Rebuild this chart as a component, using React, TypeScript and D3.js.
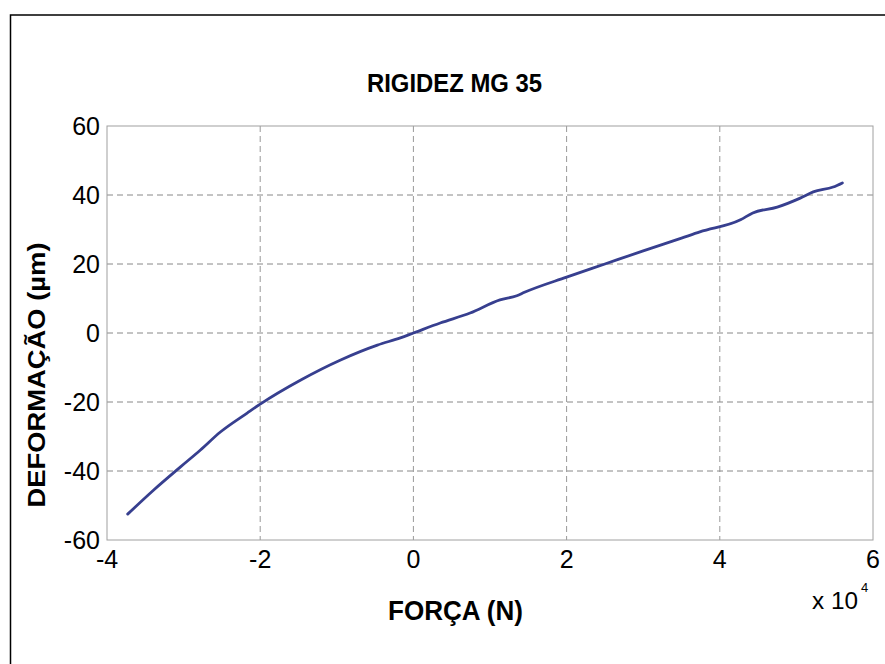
import React from "react";
import * as d3 from "d3";

const forceX: number[] = [-3.73, -3.39, -3.04, -2.78, -2.52, -2.17, -2.0, -1.47, -0.95, -0.47, -0.17, 0, 0.35, 0.74, 1.13, 1.35, 1.45, 2.0, 2.5, 3.0, 3.5, 3.74, 4.27, 4.43, 4.75, 5.05, 5.22, 5.48, 5.6];
const deformY: number[] = [-52.5, -45.5, -38.8, -33.9, -28.7, -23.2, -20.6, -13.6, -7.8, -3.5, -1.4, 0, 2.9, 5.8, 9.6, 10.8, 11.8, 16.2, 20.0, 23.8, 27.5, 29.3, 32.8, 34.8, 36.5, 39.1, 40.9, 42.3, 43.5];
const xTicks: number[] = [-4, -2, 0, 2, 4, 6];
const yTicks: number[] = [-60, -40, -20, 0, 20, 40, 60];

const title = "RIGIDEZ MG 35";
const xLabel = "FORÇA (N)";
const yLabel = "DEFORMAÇÃO (µm)";

export default function App() {
  const W = 885, H = 664;
  const left = 107, right = 873, top = 126, bottom = 540;
  const x = d3.scaleLinear().domain([-4, 6]).range([left, right]);
  const y = d3.scaleLinear().domain([-60, 60]).range([bottom, top]);
  const line = d3.line<number>().x((_, i) => x(forceX[i])).y((d) => y(d)).curve(d3.curveMonotoneX);
  const font = "Liberation Sans, Arial, sans-serif";
  return (
    <svg width={W} height={H} style={{ position: "absolute", left: 0, top: 0 }} fontFamily={font}>
      <rect x={0} y={0} width={W} height={H} fill="#fff" />
      <rect x={10.5} y={15} width={900} height={700} fill="none" stroke="#000" strokeWidth={1.5} />
      {xTicks.slice(1, -1).map((t) => (
        <line key={"gx" + t} x1={x(t)} x2={x(t)} y1={top} y2={bottom} stroke="#999" strokeDasharray="6,4" strokeWidth={1} />
      ))}
      {yTicks.slice(1, -1).map((t) => (
        <line key={"gy" + t} x1={left} x2={right} y1={y(t)} y2={y(t)} stroke="#888" strokeDasharray="6,4" strokeWidth={1} />
      ))}
      <rect x={left} y={top} width={right - left} height={bottom - top} fill="none" stroke="#a0a0a0" strokeWidth={1} />
      <path d={line(deformY) || ""} fill="none" stroke="#373f8f" strokeWidth={2.8} strokeLinejoin="round" strokeLinecap="round" />
      {yTicks.map((t) => (
        <text key={"ty" + t} x={100} y={y(t) + 9} textAnchor="end" fontSize={25} fill="#000">{t}</text>
      ))}
      {xTicks.map((t) => (
        <text key={"tx" + t} x={x(t)} y={568} textAnchor="middle" fontSize={25} fill="#000">{t}</text>
      ))}
      <text x={812} y={609} fontSize={23} fill="#000" textLength={46} lengthAdjust="spacingAndGlyphs">x 10</text>
      <text x={861} y={592} fontSize={13} fill="#000">4</text>
      <text x={367} y={92} fontSize={26} fontWeight="bold" fill="#000" textLength={175} lengthAdjust="spacingAndGlyphs">{title}</text>
      <text x={388} y={620} fontSize={27} fontWeight="bold" fill="#000" textLength={135} lengthAdjust="spacingAndGlyphs">{xLabel}</text>
      <text transform={`translate(45,${375}) rotate(-90)`} textAnchor="middle" fontSize={24} fontWeight="bold" fill="#000" textLength={265} lengthAdjust="spacingAndGlyphs">{yLabel}</text>
    </svg>
  );
}
